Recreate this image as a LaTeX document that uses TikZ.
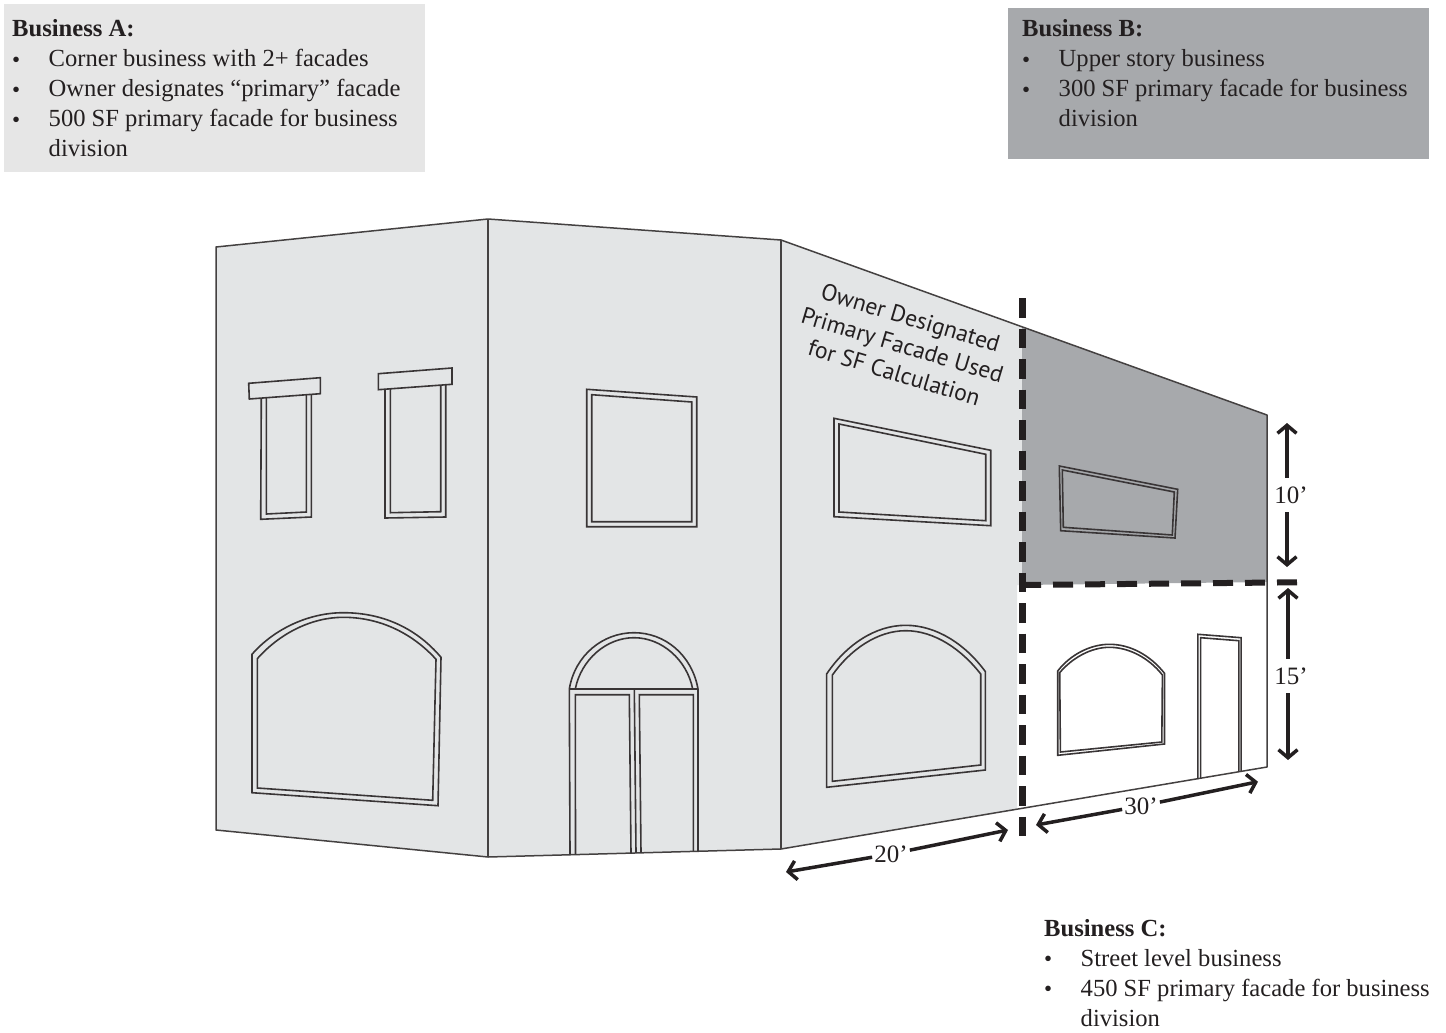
\documentclass[tikz,border=0pt]{standalone}
\usepackage{fontspec}
\setmainfont{Liberation Serif}
\newfontfamily\facadesans{PT Sans}
\usetikzlibrary{arrows.meta, positioning, calc}
\definecolor{inkdark}{HTML}{231F20}
\definecolor{wallgray}{HTML}{E3E5E6}
\definecolor{boxlight}{HTML}{E6E6E6}
\definecolor{uppergray}{HTML}{A7A9AC}
\newcommand{\bizline}[1]{\makebox[36.5pt][l]{\raisebox{-0.5pt}{\fontsize{23}{23}\selectfont\textbullet}}#1}
\newcommand{\bizcont}[1]{\hspace*{36.5pt}#1}
\tikzset{
  wallline/.style={draw=inkdark!85, line width=1.5pt, line join=round},
  frameline/.style={draw=inkdark!90, line width=1.6pt, line join=miter},
  biztext/.style={anchor=north west, align=left, inner sep=0pt, text=inkdark,
    font=\fontsize{24.6}{30}\selectfont},
  cutline/.style={draw=inkdark, line width=7pt, dash pattern=on 19.5pt off 11pt},
  floorline/.style={draw=inkdark, line width=6pt, dash pattern=on 20pt off 12pt, dash phase=3pt},
  dimline/.style={draw=inkdark, line width=3.5pt, -{Straight Barb[length=8pt,width=19pt]}},
  dimlabel/.style={inner sep=2pt, text=inkdark, font=\fontsize{25}{25}\selectfont},
  heightlabel/.style={dimlabel, minimum height=34pt}
}
\begin{document}
\begin{tikzpicture}[x=1pt, y=-1pt]
    \useasboundingbox (0,0) rectangle (1446,1033);
    % note boxes
    \fill[boxlight] (4,4) rectangle (425,172);
    \fill[uppergray] (1008,8) rectangle (1429,159);
    \node[biztext] (noteA) at (12,19.5) {\textbf{Business A:}\\
      \bizline{Corner business with 2+ facades}\\
      \bizline{Owner designates “primary” facade}\\
      \bizline{500 SF primary facade for business}\\
      \bizcont{division}};
    \node[biztext] (noteB) at (1022,19.5) {\textbf{Business B:}\\
      \bizline{Upper story business}\\
      \bizline{300 SF primary facade for business}\\
      \bizcont{division}};
    \node[biztext] (noteC) at (1044,919) {\textbf{Business C:}\\
      \bizline{Street level business}\\
      \bizline{450 SF primary facade for business}\\
      \bizcont{division}};
    % walls
    \fill[wallgray] (216,247) -- (488,219) -- (781,240) -- (1022,327) -- (1022,585)
      -- (1017,585) -- (1017,809) -- (781,849) -- (488,857) -- (216,830) -- cycle;
    \fill[uppergray] (1022,327) -- (1267,415) -- (1267,582) -- (1022,585) -- cycle;
    \draw[wallline] (216,247) -- (488,219) -- (781,240) -- (1267,415) -- (1267,767)
      -- (781,849) -- (488,857) -- (216,830) -- cycle;
    \draw[wallline] (488,219) -- (488,857);
    \draw[wallline] (781,240) -- (781,849);
    % left wall windows
    \draw[frameline] (261.3,398.5) -- (260.7,519.3) -- (311.3,517) -- (311.3,394);
    \draw[frameline] (266.3,398) -- (266.3,514) -- (306.3,512) -- (306.3,395);
    \draw[frameline] (248.7,383.3) -- (320.3,377.7) -- (320.3,393.7) -- (249.3,399) -- cycle;
    \draw[frameline] (385,389.3) -- (385,518) -- (445.7,517) -- (445.7,385);
    \draw[frameline] (390.3,389) -- (390.3,512.7) -- (440.7,511.7) -- (440.7,385.7);
    \draw[frameline] (378.3,373.7) -- (452,368) -- (452,384.3) -- (378.3,389.7) -- cycle;
    \draw[frameline] (252,792.7) -- (252,654.3) .. controls (275,628) and (310,612.7) .. (343.3,612.7)
      .. controls (385,612.7) and (418,630) .. (441,657.3) -- (438,805.7) -- cycle;
    \draw[frameline] (257.3,788) -- (257.3,658.7) .. controls (280,633) and (312,617.3) .. (343.3,617.3)
      .. controls (382,617.3) and (414,635) .. (436,659.3) -- (432.7,800.3) -- cycle;
    % middle wall window and doors
    \draw[frameline] (586.7,389.3) -- (696.7,397) -- (696.7,526.7) -- (586.7,526.7) -- cycle;
    \draw[frameline] (591.7,394.7) -- (691.7,402) -- (691.7,521.7) -- (591.7,521.7) -- cycle;
    \draw[frameline] (570,854.3) -- (569.3,689) .. controls (575,655) and (603,632.7) .. (634,632.7)
      .. controls (665,632.7) and (692,655) .. (698,689) -- (698,851);
    \draw[frameline] (575.3,689) .. controls (581,660) and (606,637.7) .. (634,637.7)
      .. controls (662,637.7) and (687,660) .. (692.7,689);
    \draw[frameline] (569.3,689) -- (698,689);
    \draw[frameline] (575.5,854.3) -- (575.3,694.7) -- (629.3,694.7) -- (631,853.3);
    \draw[frameline] (634.3,689) -- (636,853);
    \draw[frameline] (641,852.8) -- (639.3,694.7) -- (693.3,694.7) -- (693.3,851.2);
    % right wall windows
    \draw[frameline] (834,418.3) -- (990.7,450.3) -- (990.7,525.7) -- (834,516.7) -- cycle;
    \draw[frameline] (839,424) -- (985.7,454.3) -- (985.7,520.7) -- (839,512) -- cycle;
    \draw[frameline] (826.6,787.3) -- (826.6,674) .. controls (846,645) and (875,625.3) .. (905.7,625.3)
      .. controls (937,625.3) and (966,645) .. (985.4,671.7) -- (985.4,770) -- cycle;
    \draw[frameline] (832.4,781.3) -- (832.4,675) .. controls (850,650) and (877,630.7) .. (905.7,630.7)
      .. controls (935,630.7) and (962,650) .. (980.7,674) -- (980.7,765) -- cycle;
    % upper story window
    \draw[frameline] (1059.3,466) -- (1177.7,489.3) -- (1175,538) -- (1060.7,530.7) -- cycle;
    \draw[frameline] (1062.3,470) -- (1174.3,492) -- (1172.3,535) -- (1063.3,527.3) -- cycle;
    % street level window and door
    \draw[frameline] (1057.7,755.3) -- (1057.7,671) .. controls (1070,655) and (1090,644.3) .. (1109.4,644.3)
      .. controls (1130,644.3) and (1150,655) .. (1164.5,673.3) -- (1164.5,744) -- cycle;
    \draw[frameline] (1060.4,752) -- (1059.7,672.7) .. controls (1072,658) and (1091,647.3) .. (1109.4,647.3)
      .. controls (1129,647.3) and (1149,658) .. (1162.4,675) -- (1161.8,742) -- cycle;
    \draw[frameline] (1197.9,779) -- (1197.9,634.3) -- (1241.1,637.7) -- (1241.1,771);
    \draw[frameline] (1200.6,778.5) -- (1200.6,637.7) -- (1238.8,640.7) -- (1238.8,771.5);
    % business division lines
    \draw[cutline] (1022,298) -- (1022,836);
    \draw[floorline] (1024,585) -- (1297,582.3);
    % slanted note on the wall
    \node[rotate=-16.7, align=center, inner sep=0pt, text=inkdark,
      font=\facadesans\fontsize{23.5}{28.5}\selectfont] (primarynote) at (902.5,345)
      {Owner Designated\\Primary Facade Used\\for SF Calculation};
    % dimensions
    \coordinate (h10top) at (1287,423);
    \coordinate (h10bot) at (1287,567);
    \coordinate (h15top) at (1288,588);
    \coordinate (h15bot) at (1288,760);
    \coordinate (w20left) at (786,872);
    \coordinate (w20right) at (1008,830);
    \coordinate (w30left) at (1036,825);
    \coordinate (w30right) at (1258,781.7);
    \node[heightlabel] (h10) at (1291,495) {10’};
    \node[heightlabel] (h15) at (1291,676) {15’};
    \node[dimlabel] (w20) at (891,854) {20’};
    \node[dimlabel] (w30) at (1141,806) {30’};
    \draw[dimline] (h10top |- h10.north) -- (h10top);
    \draw[dimline] (h10top |- h10.south) -- (h10bot);
    \draw[dimline] (h15top |- h15.north) -- (h15top);
    \draw[dimline] (h15top |- h15.south) -- (h15bot);
    \draw[dimline] (w20) -- (w20left);
    \draw[dimline] (w20) -- (w20right);
    \draw[dimline] (w30) -- (w30left);
    \draw[dimline] (w30) -- (w30right);
\end{tikzpicture}
\end{document}
